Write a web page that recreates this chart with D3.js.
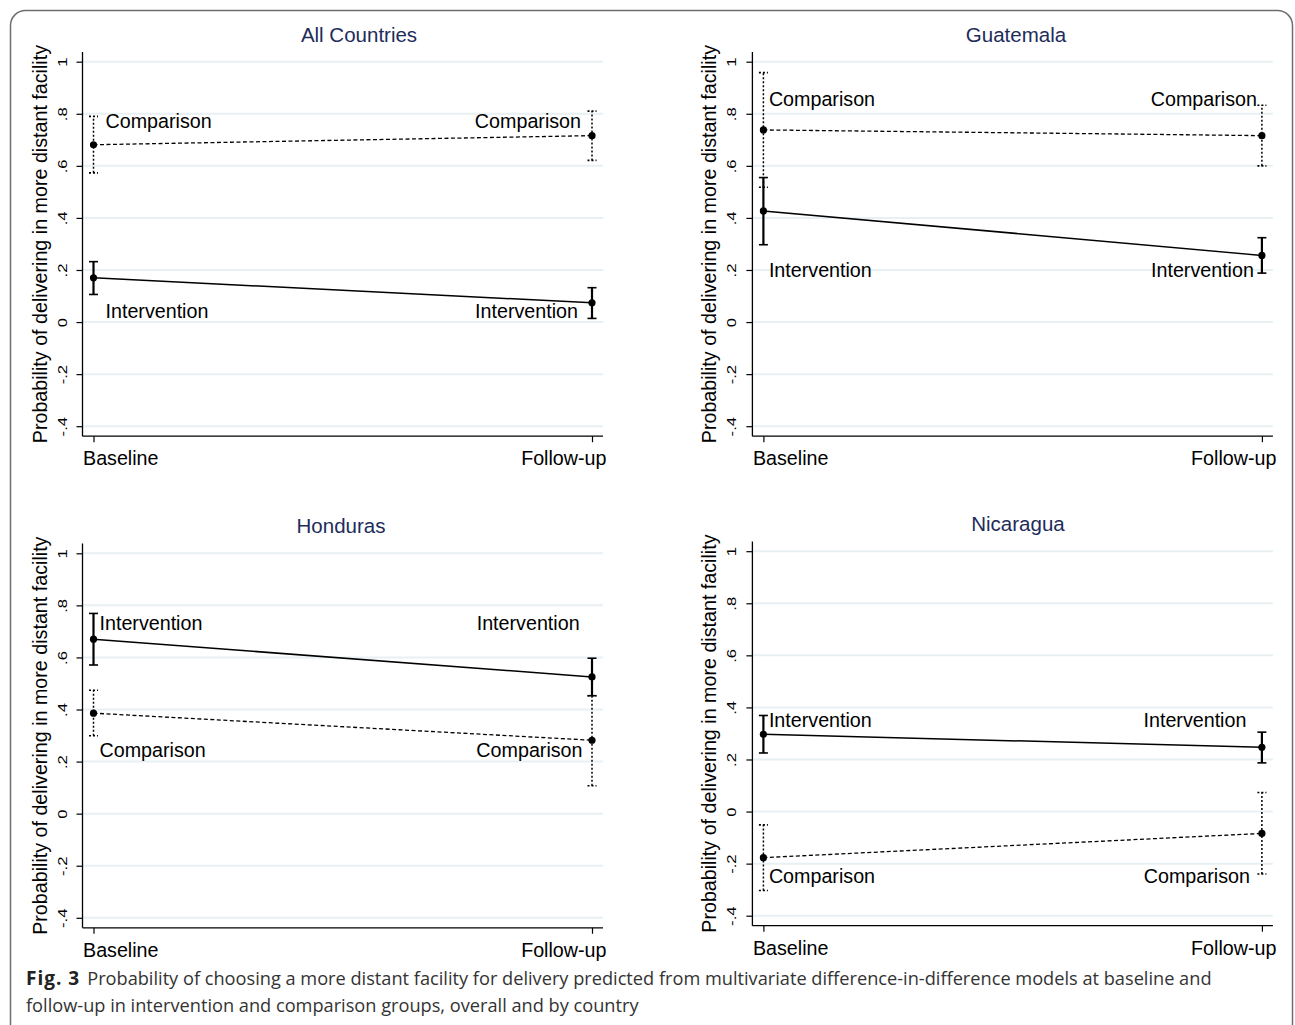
<!DOCTYPE html>
<html>
<head>
<meta charset="utf-8">
<script src="https://cdn.jsdelivr.net/npm/d3@7"></script>
<style>
  body { margin: 0; background: #fff; }
  svg { display: block; }
</style>
</head>
<body>
<div id="chart"></div>
<script>
// Data
const panelTitles = ["All Countries", "Guatemala", "Honduras", "Nicaragua"];
const periods = ["Baseline", "Follow-up"];
const groups = ["Intervention", "Comparison"];

const interventionEst = [[0.170, 0.074], [0.427, 0.256], [0.670, 0.525], [0.297, 0.247]];
const interventionLo  = [[0.106, 0.014], [0.297, 0.188], [0.571, 0.453], [0.225, 0.187]];
const interventionHi  = [[0.232, 0.132], [0.555, 0.324], [0.769, 0.597], [0.369, 0.305]];

const comparisonEst = [[0.681, 0.716], [0.738, 0.716], [0.386, 0.282], [-0.177, -0.084]];
const comparisonLo  = [[0.573, 0.621], [0.518, 0.600], [0.299, 0.107], [-0.303, -0.240]];
const comparisonHi  = [[0.790, 0.810], [0.958, 0.833], [0.474, 0.453], [-0.051, 0.073]];

// y value where the group names sit in each panel
const interventionLabelY = [0.042, 0.199, 0.733, 0.352];
const comparisonLabelY   = [0.772, 0.858, 0.246, -0.248];

const yTicks = [-0.4, -0.2, 0, 0.2, 0.4, 0.6, 0.8, 1];
const yTickLabels = ["-.4", "-.2", "0", ".2", ".4", ".6", ".8", "1"];
const yTitle = "Probability of delivering in more distant facility";

const captionBold = "Fig. 3";
const captionLines = [
    "Probability of choosing a more distant facility for delivery predicted from multivariate difference-in-difference models at baseline and",
    "follow-up in intervention and comparison groups, overall and by country"
];

// Layout
const W = 1295, H = 1025;
const plotW = 520.5, plotH = 364.5;
const chartFont = "'Liberation Sans', Arial, Helvetica, sans-serif";
const textSize = "19.7px";

const layout = [
    { left: 82.5,  top: 61.7,  titleX: 359,  labelIn: 12,  labelOut: [14, 11] },
    { left: 752.4, top: 61.7,  titleX: 1016, labelIn: 5.5, labelOut: [8, 5] },
    { left: 82.5,  top: 553.3, titleX: 341,  labelIn: 6,   labelOut: [12.4, 9.5] },
    { left: 752.4, top: 551.2, titleX: 1018, labelIn: 5.5, labelOut: [15.5, 12] }
];

const styles = {
    Intervention: { line: null, ci: null, lineW: 1.5, ciW: 2.2 },
    Comparison:   { line: "4,2.5", ci: "2,2", lineW: 1.3, ciW: 1.5 }
};

var svg = d3.select("#chart")
    .append("svg")
    .attr("width", W)
    .attr("height", H);

// Outer frame
svg.append("rect")
    .attr("x", 10.5)
    .attr("y", 10.5)
    .attr("width", 1282)
    .attr("height", 1040)
    .attr("rx", 15)
    .attr("fill", "none")
    .attr("stroke", "#6e6e6e")
    .attr("stroke-width", 1.5);

panelTitles.forEach((title, p) => {
    const L = layout[p];
    const g = svg.append("g");

    var y = d3.scaleLinear()
        .domain([-0.4, 1])
        .range([L.top + plotH, L.top]);

    var x = d3.scalePoint()
        .domain(periods)
        .range([L.left + 11, L.left + 509.5]);

    const axisTop = y(1) - 9.7;
    const axisBottom = y(-0.4) + 10;

    //Grid
    g.selectAll(".grid")
        .data(yTicks)
        .join("line")
        .attr("x1", L.left)
        .attr("x2", L.left + plotW)
        .attr("y1", d => y(d))
        .attr("y2", d => y(d))
        .attr("stroke", "#e9f0f3")
        .attr("stroke-width", 2);

    //Y axis
    var yAxis = g.append("g")
        .attr("transform", "translate(" + L.left + ",0)")
        .call(d3.axisLeft(y)
            .tickValues(yTicks)
            .tickFormat((d, i) => yTickLabels[i])
            .tickSize(6)
            .tickSizeOuter(0));
    yAxis.select(".domain").remove();
    yAxis.selectAll("line").attr("stroke", "#000").attr("stroke-width", 1.2);
    yAxis.selectAll("text")
        .attr("x", 0)
        .attr("y", -16)
        .attr("dy", 0)
        .attr("text-anchor", "middle")
        .attr("transform", "rotate(-90) scale(1.3,1)")
        .attr("fill", "#000")
        .style("font-family", chartFont)
        .style("font-size", "12.8px");

    g.append("line")
        .attr("x1", L.left).attr("x2", L.left)
        .attr("y1", axisTop).attr("y2", axisBottom)
        .attr("stroke", "#000")
        .attr("stroke-width", 1.3);

    g.append("text")
        .attr("transform", "translate(" + (L.left - 36) + "," + ((axisTop + axisBottom) / 2) + ") rotate(-90)")
        .attr("text-anchor", "middle")
        .style("font-family", chartFont)
        .style("font-size", textSize)
        .text(yTitle);

    //X axis
    var xAxis = g.append("g")
        .attr("transform", "translate(0," + axisBottom + ")")
        .call(d3.axisBottom(x).tickSize(6).tickSizeOuter(0));
    xAxis.select(".domain").remove();
    xAxis.selectAll("line").attr("stroke", "#000").attr("stroke-width", 1.2);
    xAxis.selectAll("text")
        .attr("y", 29)
        .attr("dy", 0)
        .attr("x", d => d === periods[0] ? L.left - x(d) : L.left + plotW + 3 - x(d))
        .attr("text-anchor", d => d === periods[0] ? "start" : "end")
        .attr("fill", "#000")
        .style("font-family", chartFont)
        .style("font-size", textSize);

    g.append("line")
        .attr("x1", L.left).attr("x2", L.left + plotW)
        .attr("y1", axisBottom).attr("y2", axisBottom)
        .attr("stroke", "#000")
        .attr("stroke-width", 1.3);

    //Title
    g.append("text")
        .attr("x", L.titleX)
        .attr("y", axisTop - 10.5)
        .attr("text-anchor", "middle")
        .attr("fill", "#1e2c5a")
        .style("font-family", chartFont)
        .style("font-size", "20.5px")
        .text(title);

    //Series
    const series = [
        { name: groups[0], est: interventionEst[p], lo: interventionLo[p], hi: interventionHi[p], labelY: interventionLabelY[p] },
        { name: groups[1], est: comparisonEst[p], lo: comparisonLo[p], hi: comparisonHi[p], labelY: comparisonLabelY[p] }
    ];

    series.forEach((s, k) => {
        const st = styles[s.name];

        g.append("path")
            .datum(periods)
            .attr("fill", "none")
            .attr("stroke", "#000")
            .attr("stroke-width", st.lineW)
            .attr("stroke-dasharray", st.line)
            .attr("d", d3.line()
                .x(d => x(d))
                .y((d, i) => y(s.est[i])));

        // confidence intervals with caps
        periods.forEach((per, i) => {
            g.append("line")
                .attr("x1", x(per)).attr("x2", x(per))
                .attr("y1", y(s.lo[i])).attr("y2", y(s.hi[i]))
                .attr("stroke", "#000")
                .attr("stroke-width", st.ciW)
                .attr("stroke-dasharray", st.ci);
            [s.lo[i], s.hi[i]].forEach(v => {
                g.append("line")
                    .attr("x1", x(per) - 4.5).attr("x2", x(per) + 4.5)
                    .attr("y1", y(v)).attr("y2", y(v))
                    .attr("stroke", "#000")
                    .attr("stroke-width", 1.6)
                    .attr("stroke-dasharray", st.ci);
            });
        });

        g.selectAll(".pt" + k)
            .data(periods)
            .join("circle")
            .attr("cx", d => x(d))
            .attr("cy", (d, i) => y(s.est[i]))
            .attr("r", 3.6)
            .attr("fill", "#000");

        // group names at both ends
        g.append("text")
            .attr("x", x(periods[0]) + L.labelIn)
            .attr("y", y(s.labelY))
            .attr("dy", "0.36em")
            .style("font-family", chartFont)
            .style("font-size", textSize)
            .text(s.name);

        g.append("text")
            .attr("x", x(periods[1]) - L.labelOut[k])
            .attr("y", y(s.labelY))
            .attr("dy", "0.36em")
            .attr("text-anchor", "end")
            .style("font-family", chartFont)
            .style("font-size", textSize)
            .text(s.name);
    });
});

//Caption
var cap = svg.append("g")
    .style("font-family", "'Open Sans', 'Noto Sans', sans-serif")
    .style("font-size", "18.2px")
    .attr("fill", "#333");

var line1 = cap.append("text")
    .attr("x", 26)
    .attr("y", 985);
line1.append("tspan")
    .style("font-weight", "bold")
    .style("font-size", "19px")
    .style("letter-spacing", "1px")
    .attr("fill", "#222")
    .text(captionBold);
line1.append("tspan")
    .attr("dx", 7)
    .text(captionLines[0]);

cap.append("text")
    .attr("x", 26)
    .attr("y", 1012)
    .text(captionLines[1]);
</script>
</body>
</html>
